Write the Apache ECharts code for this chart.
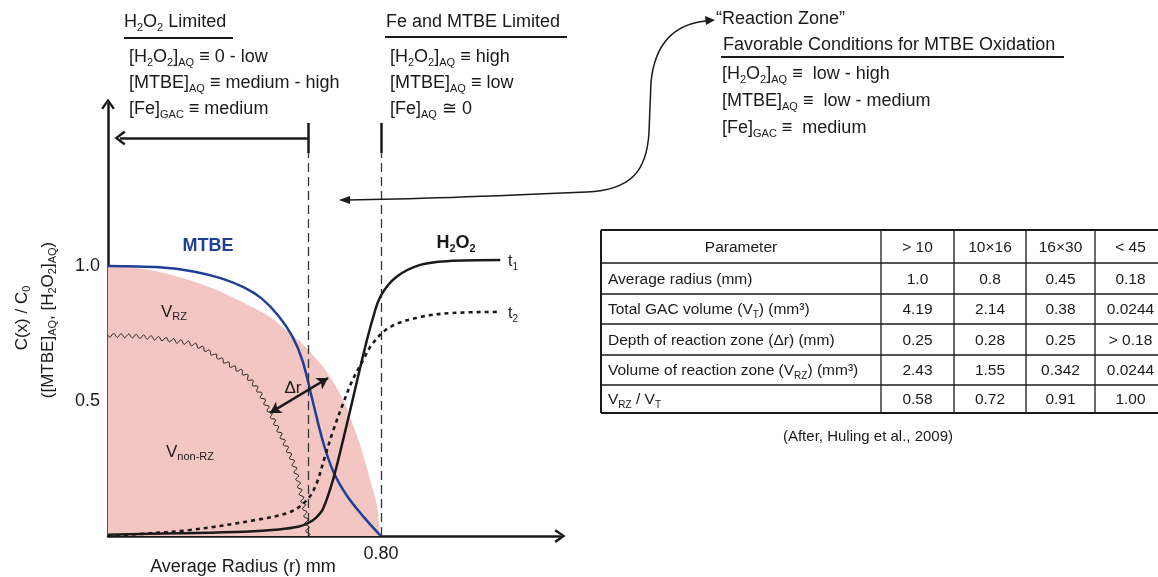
<!DOCTYPE html>
<html>
<head>
<meta charset="utf-8">
<title></title>
<style>
html,body{margin:0;padding:0;background:#fff;}
#main{width:1158px;height:577px;}
</style>
<script src="https://cdn.jsdelivr.net/npm/echarts@6/dist/echarts.min.js"></script>
</head>
<body>
<div id="main"></div>
<script>
// GAC grain (pink) outline
const grainX = [0, 0.1, 0.2, 0.3, 0.4, 0.47, 0.51, 0.59, 0.67, 0.73, 0.768, 0.789, 0.797];
const grainY = [1.0, 0.99, 0.962, 0.92, 0.862, 0.815, 0.775, 0.685, 0.55, 0.37, 0.21, 0.107, 0];
// MTBE profile
const mtbeX = [0, 0.15, 0.25, 0.33, 0.40, 0.45, 0.50, 0.54, 0.57, 0.60, 0.63, 0.66, 0.70, 0.75, 0.80];
const mtbeY = [1.0, 0.995, 0.98, 0.955, 0.92, 0.88, 0.815, 0.74, 0.65, 0.50, 0.35, 0.24, 0.15, 0.07, 0];
// H2O2 at t1 (solid) and t2 (dotted)
const t1X = [0, 0.2, 0.4, 0.5, 0.56, 0.59, 0.61, 0.63, 0.66, 0.69, 0.72, 0.75, 0.775, 0.80, 0.846, 0.915, 0.994, 1.15];
const t1Y = [0.005, 0.01, 0.016, 0.024, 0.035, 0.05, 0.068, 0.1, 0.21, 0.36, 0.52, 0.68, 0.8, 0.89, 0.96, 1.004, 1.018, 1.022];
const t2X = [0, 0.1, 0.24, 0.436, 0.534, 0.583, 0.61, 0.635, 0.66, 0.689, 0.716, 0.745, 0.777, 0.827, 0.915, 1.01, 1.15];
const t2Y = [0, 0.008, 0.022, 0.06, 0.089, 0.133, 0.19, 0.29, 0.39, 0.49, 0.575, 0.645, 0.715, 0.774, 0.811, 0.826, 0.83];
// reaction zone inner boundary (wavy)
const rzX = [0, 0.1, 0.2, 0.27, 0.367, 0.40, 0.44, 0.475, 0.513, 0.543, 0.563, 0.578, 0.587];
const rzY = [0.744, 0.738, 0.722, 0.70, 0.626, 0.60, 0.54, 0.456, 0.356, 0.27, 0.17, 0.085, 0];
// zone limits
const zoneLimits = [0.587, 0.80];
const xTickValues = [0.8];
const yTickValues = [0.5, 1.0];

// table
const tableHead = ['Parameter', '> 10', '10×16', '16×30', '< 45'];
const tableParams = ['Average radius (mm)', 'Total GAC volume (V{s|T}) (mm³)', 'Depth of reaction zone (Δr) (mm)',
  'Volume of reaction zone (V{s|RZ}) (mm³)', 'V{s|RZ} / V{s|T}'];
const avgRadius = ['1.0', '0.8', '0.45', '0.18'];
const gacVolume = ['4.19', '2.14', '0.38', '0.0244'];
const rzDepth = ['0.25', '0.28', '0.25', '> 0.18'];
const rzVolume = ['2.43', '1.55', '0.342', '0.0244'];
const rzRatio = ['0.58', '0.72', '0.91', '1.00'];

const FONT = '"Liberation Sans", Arial, Helvetica, sans-serif';
const INK = '#1a1a1a';
const chevron = 'path://M5,0 L10,7 L8.5,8 L5,2.8 L1.5,8 L0,7 Z';

const pairs = (xs, ys) => xs.map((x, i) => [x, ys[i]]);

function rich(size) {
  const ss = Math.round(size * 0.62);
  return {
    n: {fontSize: size, fontFamily: FONT, fill: INK, lineHeight: size + 4},
    s: {fontSize: ss, fontFamily: FONT, fill: INK, lineHeight: ss + 1, verticalAlign: 'bottom'},
    b: {fontSize: size, fontFamily: FONT, fontWeight: 'bold', fill: INK, lineHeight: size + 4},
    bs: {fontSize: ss, fontFamily: FONT, fontWeight: 'bold', fill: INK, lineHeight: ss + 1, verticalAlign: 'bottom'}
  };
}

// wrap plain parts into {n|...}
function rt(str) {
  return str.split(/(\{[a-z]+\|[^}]*\})/).filter(p => p).map(p => p[0] === '{' ? p : '{n|' + p + '}').join('');
}

function txt(x, y, str, size, align, extra) {
  return Object.assign({
    type: 'text', x: x, y: y, z: 20,
    style: {
      text: rt(str), rich: rich(size), fontSize: size, fontFamily: FONT, fill: INK,
      align: align || 'left', textAlign: align || 'left', verticalAlign: 'middle', textVerticalAlign: 'middle'
    }
  }, extra || {});
}

function hline(x1, x2, y, w) {
  return {type: 'line', z: 20, shape: {x1: x1, y1: y, x2: x2, y2: y}, style: {stroke: INK, lineWidth: w || 1.5}};
}
function vline(x, y1, y2, w) {
  return {type: 'line', z: 20, shape: {x1: x, y1: y1, x2: x, y2: y2}, style: {stroke: INK, lineWidth: w || 1.5}};
}
function bez(p1, c1, c2, p2) {
  return {type: 'bezierCurve', z: 20, shape: {x1: p1[0], y1: p1[1], cpx1: c1[0], cpy1: c1[1], cpx2: c2[0], cpy2: c2[1], x2: p2[0], y2: p2[1]},
    style: {stroke: INK, lineWidth: 1.5, fill: null}};
}

const graphics = [];
// top annotations
graphics.push(txt(124, 22, 'H{s|2}O{s|2} Limited', 18));
graphics.push(hline(124, 233, 38, 2));
graphics.push(txt(129, 57, '[H{s|2}O{s|2}]{s|AQ} ≡ 0 - low', 18));
graphics.push(txt(129, 83, '[MTBE]{s|AQ} ≡ medium - high', 18));
graphics.push(txt(129, 109, '[Fe]{s|GAC} ≡ medium', 18));

graphics.push(txt(386, 22, 'Fe and MTBE Limited', 18));
graphics.push(hline(385, 567, 37, 2));
graphics.push(txt(390, 57, '[H{s|2}O{s|2}]{s|AQ} ≡ high', 18));
graphics.push(txt(390, 83, '[MTBE]{s|AQ} ≡ low', 18));
graphics.push(txt(390, 109, '[Fe]{s|AQ} ≅ 0', 18));

graphics.push(txt(716, 19, '“Reaction Zone”', 18));
graphics.push(txt(723, 45, 'Favorable Conditions for MTBE Oxidation', 18));
graphics.push(hline(721, 1064, 57, 2));
graphics.push(txt(722, 74, '[H{s|2}O{s|2}]{s|AQ} ≡  low - high', 18));
graphics.push(txt(722, 101, '[MTBE]{s|AQ} ≡  low - medium', 18));
graphics.push(txt(722, 128, '[Fe]{s|GAC} ≡  medium', 18));

// curved pointer arrow
graphics.push(bez([706, 21], [676, 24], [655, 42], [651, 82]));
graphics.push({type: 'line', z: 20, shape: {x1: 651, y1: 82, x2: 649, y2: 132}, style: {stroke: INK, lineWidth: 1.5}});
graphics.push(bez([649, 132], [647, 172], [630, 190], [587, 192]));
graphics.push(bez([587, 192], [520, 195], [420, 199], [348, 200]));
graphics.push({type: 'polygon', z: 20, shape: {points: [[715, 20], [705, 16], [706, 25]]}, style: {fill: INK}});
graphics.push({type: 'polygon', z: 20, shape: {points: [[339, 200], [350, 196], [350, 204]]}, style: {fill: INK}});

// axis titles
graphics.push(txt(22, 318, 'C(x) / C{s|0}', 17, 'center', {rotation: Math.PI / 2}));
graphics.push(txt(48, 320, '([MTBE]{s|AQ}, [H{s|2}O{s|2}]{s|AQ})', 17, 'center', {rotation: Math.PI / 2}));
graphics.push(txt(243, 567, 'Average Radius (r) mm', 18, 'center'));

// in-plot labels
graphics.push({type: 'text', x: 208, y: 246, z: 20, style: {text: 'MTBE', fontSize: 18, fontWeight: 'bold', fontFamily: FONT, fill: '#1f3f96', align: 'center', textAlign: 'center', verticalAlign: 'middle', textVerticalAlign: 'middle'}});
graphics.push(txt(456, 243, '{b|H}{bs|2}{b|O}{bs|2}', 18, 'center'));
graphics.push(txt(508, 262, 't{s|1}', 16));
graphics.push(txt(508, 314, 't{s|2}', 16));
graphics.push(txt(174, 312, 'V{s|RZ}', 17, 'center'));
graphics.push(txt(190, 452, 'V{s|non-RZ}', 17, 'center'));
graphics.push(txt(293, 388, 'Δr', 17, 'center'));

// table
const rowYs = [230, 263, 294, 324, 355, 385, 413];
const colXs = [601, 881, 954, 1026, 1095, 1166];
rowYs.forEach((y, i) => graphics.push(hline(601, 1158, y, (i === 0 || i === rowYs.length - 1) ? 2 : 1.3)));
colXs.forEach((x, i) => graphics.push(vline(x, 230, 413, i === 0 ? 2 : 1.3)));
const rowsVals = [tableHead.slice(1), avgRadius, gacVolume, rzDepth, rzVolume, rzRatio];
const rowLabels = [tableHead[0]].concat(tableParams);
rowLabels.forEach((lab, r) => {
  const cy = (rowYs[r] + rowYs[r + 1]) / 2 + 1;
  if (r === 0) graphics.push(txt((colXs[0] + colXs[1]) / 2, cy, lab, 15.5, 'center'));
  else graphics.push(txt(608, cy, lab, 15.5));
  rowsVals[r].forEach((v, c) => graphics.push(txt((colXs[c + 1] + colXs[c + 2]) / 2, cy, v, 15.5, 'center')));
});
graphics.push(txt(868, 437, '(After, Huling et al., 2009)', 15, 'center'));

// wavy boundary drawn along the data curve
function renderWavy(params, api) {
  if (params.dataIndex !== 0) return null;
  const pts = rzX.map((x, i) => api.coord([x, rzY[i]]));
  const dense = [];
  for (let i = 0; i < pts.length - 1; i++) {
    const p0 = pts[Math.max(i - 1, 0)], p1 = pts[i], p2 = pts[i + 1], p3 = pts[Math.min(i + 2, pts.length - 1)];
    for (let k = 0; k < 20; k++) {
      const t = k / 20, t2 = t * t, t3 = t2 * t;
      const f = (a, b, c, d) => 0.5 * (2 * b + (-a + c) * t + (2 * a - 5 * b + 4 * c - d) * t2 + (-a + 3 * b - 3 * c + d) * t3);
      dense.push([f(p0[0], p1[0], p2[0], p3[0]), f(p0[1], p1[1], p2[1], p3[1])]);
    }
  }
  dense.push(pts[pts.length - 1]);
  const out = [];
  let s = 0;
  for (let i = 0; i < dense.length; i++) {
    const a = dense[Math.max(i - 1, 0)], b = dense[Math.min(i + 1, dense.length - 1)];
    if (i > 0) s += Math.hypot(dense[i][0] - dense[i - 1][0], dense[i][1] - dense[i - 1][1]);
    const dx = b[0] - a[0], dy = b[1] - a[1], len = Math.hypot(dx, dy) || 1;
    const off = 2 * Math.sin(2 * Math.PI * s / 7.5);
    out.push([dense[i][0] - dy / len * off, dense[i][1] + dx / len * off]);
  }
  return {type: 'polyline', shape: {points: out, smooth: 0.3}, style: {stroke: INK, lineWidth: 1, fill: null}};
}

const dashStyle = {color: '#333', width: 1.3, type: [9, 5]};
const solidStyle = {color: INK, width: 2.5, type: 'solid'};

const option = {
  animation: false,
  grid: {left: 108, top: 104, width: 452, height: 432, containLabel: false, outerBoundsMode: 'none'},
  xAxis: {
    type: 'value', min: 0, max: 1.325,
    axisLine: {show: true, onZero: false, symbol: ['none', chevron], symbolSize: [15, 11], lineStyle: {color: INK, width: 2.5}},
    axisTick: {show: false},
    splitLine: {show: false},
    axisLabel: {customValues: xTickValues, formatter: v => v.toFixed(2), color: INK, fontSize: 18, fontFamily: FONT, margin: 9}
  },
  yAxis: {
    type: 'value', min: 0, max: 1.6,
    axisLine: {show: true, onZero: false, symbol: ['none', chevron], symbolSize: [15, 11], lineStyle: {color: INK, width: 2.5}},
    axisTick: {show: true, inside: true, length: 7, customValues: yTickValues, lineStyle: {color: INK, width: 2.5}},
    splitLine: {show: false},
    axisLabel: {customValues: yTickValues, formatter: v => v.toFixed(1), color: INK, fontSize: 18, fontFamily: FONT, margin: 8}
  },
  series: [
    {
      name: 'grain', type: 'line', z: 1, smooth: 0.4, showSymbol: false, silent: true,
      data: pairs(grainX, grainY),
      lineStyle: {width: 0}, areaStyle: {color: '#f4c6c3', opacity: 1}
    },
    {
      name: 'rz', type: 'custom', z: 2, silent: true, renderItem: renderWavy,
      data: pairs(rzX, rzY), encode: {x: 0, y: 1}
    },
    {
      name: 'MTBE', type: 'line', z: 3, smooth: 0.35, showSymbol: false, silent: true,
      data: pairs(mtbeX, mtbeY), lineStyle: {color: '#1f3f96', width: 2.5}
    },
    {
      name: 't2', type: 'line', z: 3, smooth: 0.35, showSymbol: false, silent: true,
      data: pairs(t2X, t2Y), lineStyle: {color: INK, width: 2.6, type: [4, 4]}
    },
    {
      name: 't1', type: 'line', z: 3, smooth: 0.35, showSymbol: false, silent: true,
      data: pairs(t1X, t1Y), lineStyle: {color: INK, width: 2.5}
    },
    {
      name: 'annot', type: 'line', z: 4, data: [], silent: true,
      markLine: {
        silent: true, animation: false, label: {show: false}, symbol: ['none', 'none'],
        data: [
          [{coord: [zoneLimits[0], 0], lineStyle: dashStyle}, {coord: [zoneLimits[0], 1.418]}],
          [{coord: [zoneLimits[1], 0], lineStyle: dashStyle}, {coord: [zoneLimits[1], 1.418]}],
          [{coord: [zoneLimits[0], 1.418], lineStyle: solidStyle}, {coord: [zoneLimits[0], 1.53]}],
          [{coord: [zoneLimits[1], 1.418], lineStyle: solidStyle}, {coord: [zoneLimits[1], 1.53]}],
          [{coord: [zoneLimits[0], 1.474], lineStyle: solidStyle}, {coord: [0.035, 1.474], symbol: chevron, symbolSize: [15, 11]}],
          [{coord: [zoneLimits[1], 1.474], lineStyle: solidStyle}, {coord: [1.34, 1.474], symbol: chevron, symbolSize: [15, 11]}],
          [{coord: [0.475, 0.456], symbol: 'arrow', symbolSize: [10, 11], lineStyle: solidStyle}, {coord: [0.645, 0.585], symbol: 'arrow', symbolSize: [10, 11]}]
        ]
      }
    }
  ],
  graphic: graphics
};

const chart = echarts.init(document.getElementById('main'));
chart.setOption(option);
</script>
</body>
</html>
